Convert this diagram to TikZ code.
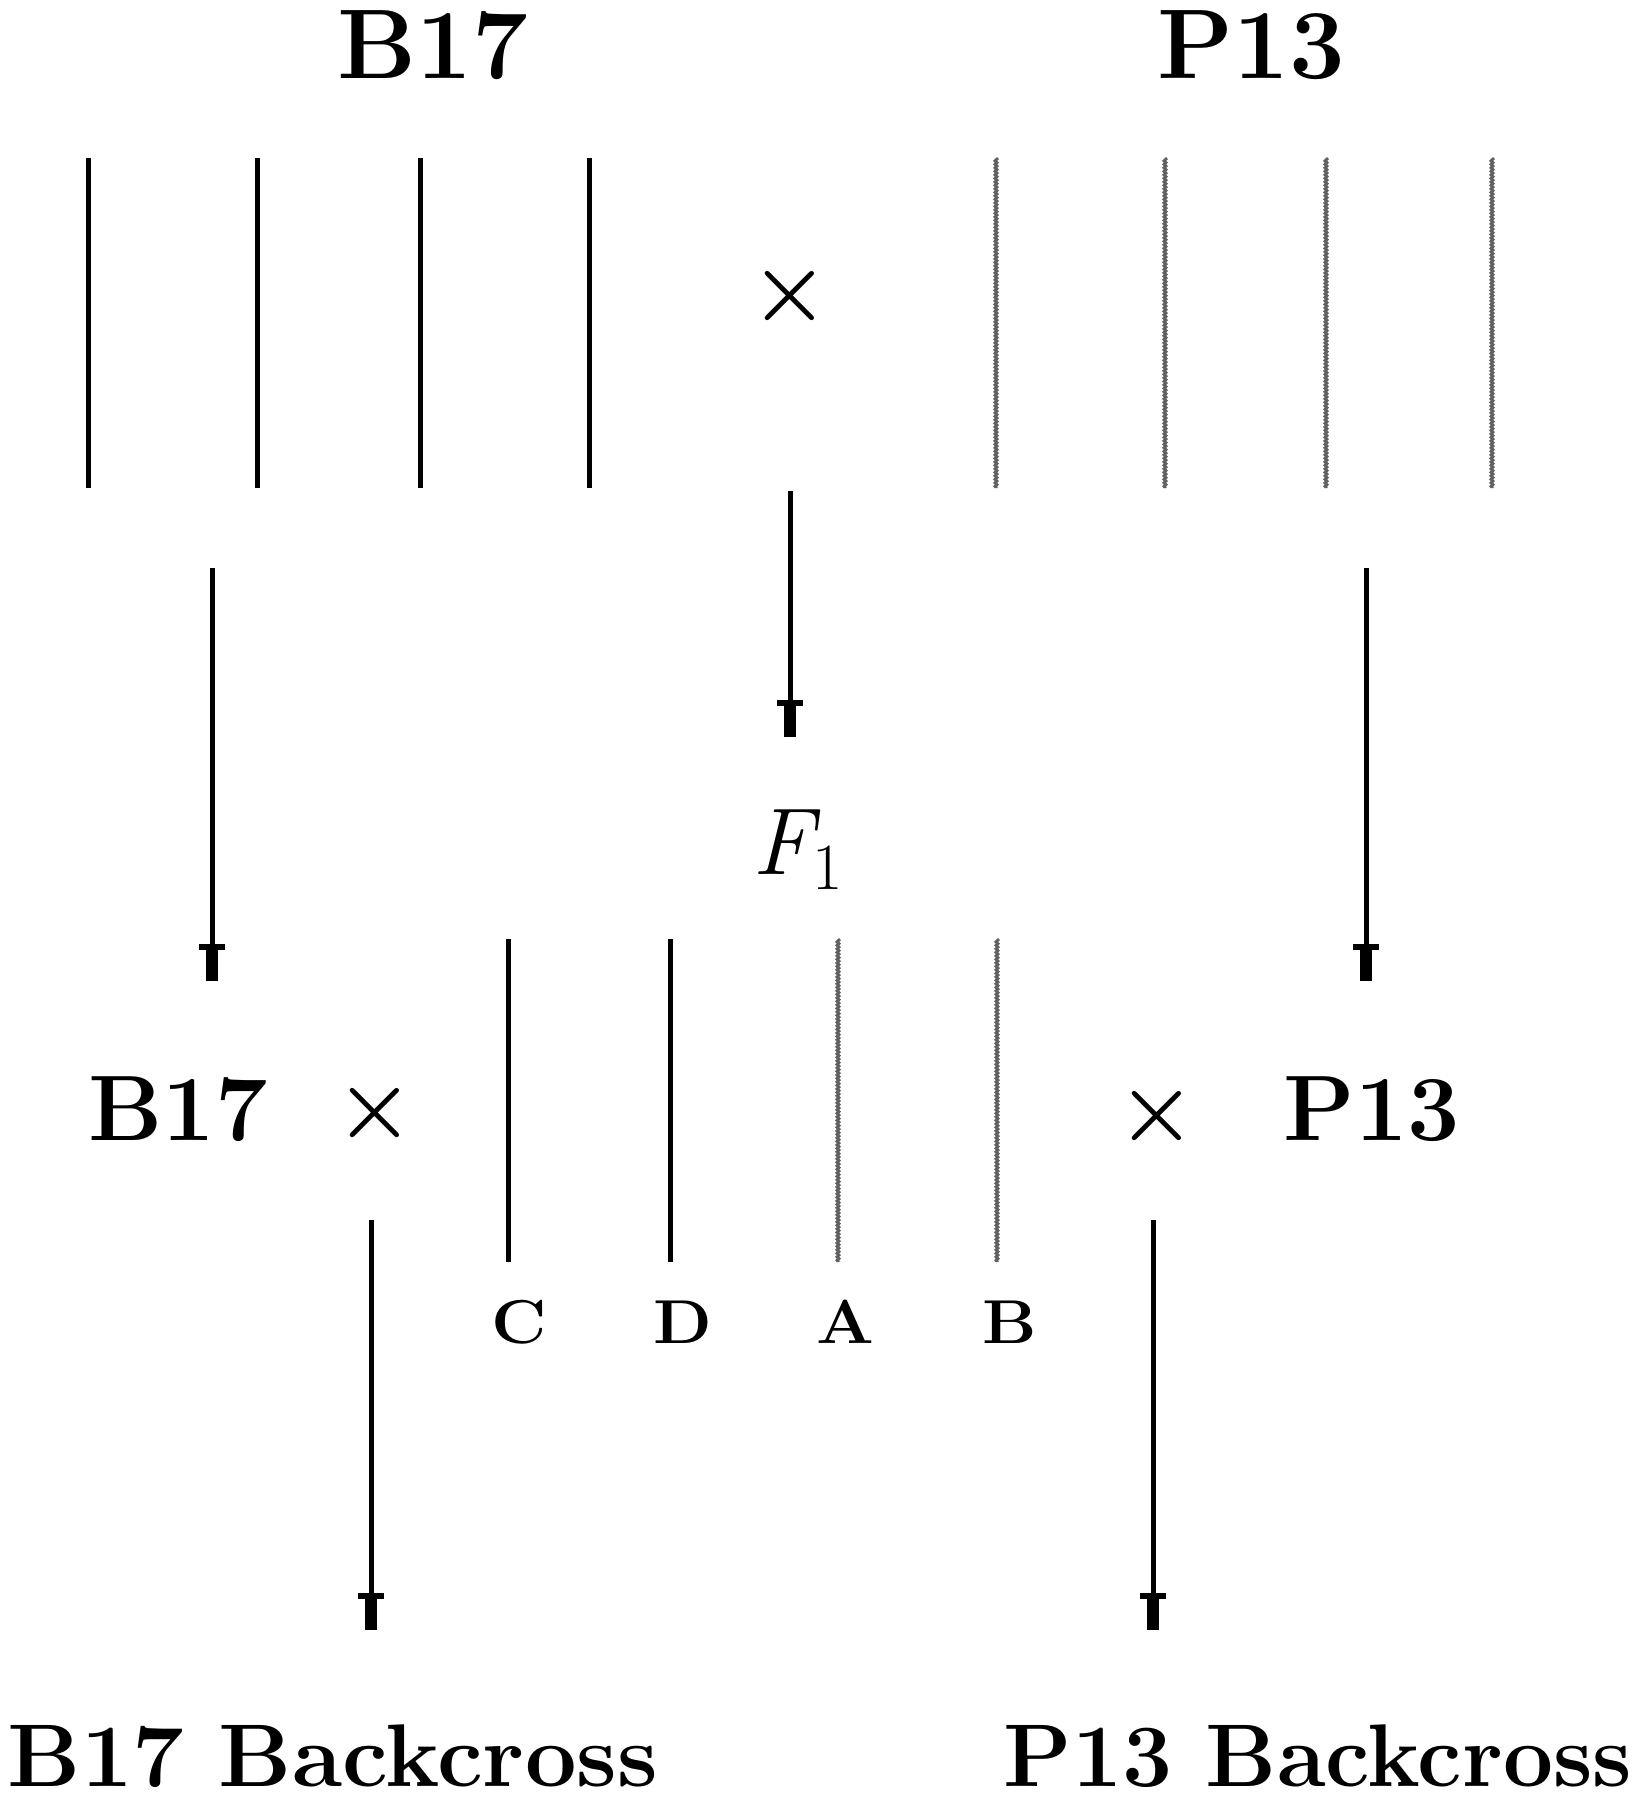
\documentclass[tikz,border=0pt]{standalone}
\usepackage{fontspec}
\usetikzlibrary{decorations.pathmorphing}
\tikzset{
  chrB/.style={line width=5pt, black},
  chrG/.style={line width=3pt, black!62, decorate,
    decoration={snake, amplitude=0.9pt, segment length=3.5pt}},
  conn/.style={line width=5pt, black},
  toplbl/.style={inner sep=0pt, anchor=base, font=\fontsize{99}{110}\selectfont\bfseries},
  lbl/.style={inner sep=0pt, anchor=base, font=\fontsize{93}{100}\selectfont\bfseries},
  botlbl/.style={inner sep=0pt, anchor=base, font=\fontsize{89}{100}\selectfont\bfseries},
  letter/.style={inner sep=0pt, anchor=base, font=\fontsize{62}{68}\selectfont\bfseries},
  crossmark/.style={inner sep=0pt, anchor=center, font=\fontsize{90}{100}\selectfont\bfseries},
  tee/.pic={\fill (-13,-37) rectangle (13,-31); \fill (-6,-32) rectangle (6,0);}
}
\begin{document}
\begin{tikzpicture}[x=1pt,y=-1pt]
\useasboundingbox (0,0) rectangle (1647,1800);
% top labels
\node[toplbl] (tB) at (433,78) {B17};
\node[toplbl] (tP) at (1251,78) {P13};
% parental chromosomes
\foreach \x [count=\i] in {88,257,420,589}{
  \coordinate (bt\i) at (\x,158); \coordinate (bb\i) at (\x,488);
  \draw[chrB] (bt\i) -- (bb\i);
}
\foreach \x [count=\i] in {996,1165,1326,1492}{
  \coordinate (gt\i) at (\x,158); \coordinate (gb\i) at (\x,488);
  \draw[chrG] (gt\i) -- (gb\i);
}
\node[crossmark] (x1) at (790,296) {×};
% arrows
\coordinate (a1s) at (790,491); \coordinate (a1e) at (790,737);
\coordinate (a2s) at (212,568); \coordinate (a2e) at (212,981);
\coordinate (a3s) at (1366,568); \coordinate (a3e) at (1366,981);
\coordinate (a4s) at (371,1220); \coordinate (a4e) at (371,1630);
\coordinate (a5s) at (1153,1220); \coordinate (a5e) at (1153,1630);
\foreach \a in {a1,a2,a3,a4,a5}{
  \draw[conn] (\a s) -- (\a e);
  \pic at (\a e) {tee};
}
% F1
\node[inner sep=0pt, anchor=base west, font=\fontsize{95}{105}\selectfont] (F1) at (752,874)
  {\itshape F\upshape\raisebox{-15pt}{\fontsize{66}{70}\selectfont 1}};
% F1 chromosomes
\foreach \x [count=\i] in {508,670}{
  \coordinate (mt\i) at (\x,939); \coordinate (mb\i) at (\x,1262);
  \draw[chrB] (mt\i) -- (mb\i);
}
\foreach \x [count=\i] in {838,997}{
  \coordinate (nt\i) at (\x,939); \coordinate (nb\i) at (\x,1262);
  \draw[chrG] (nt\i) -- (nb\i);
}
\node[letter] (lC) at (519,1343) {\scalebox{1.1}[1]{C}};
\node[letter] (lD) at (683,1343) {\scalebox{1.1}[1]{D}};
\node[letter] (lA) at (845,1343) {\scalebox{1.1}[1]{A}};
\node[letter] (lB) at (1010,1343) {\scalebox{1.1}[1]{B}};
% backcross parents
\node[lbl] (mB) at (178,1140) {B17};
\node[crossmark] (x2) at (375,1113) {×};
\node[crossmark] (x3) at (1157,1116) {×};
\node[lbl] (mP) at (1372,1140) {P13};
% bottom labels
\node[botlbl] (bB) at (333,1786) {\scalebox{1.03}[1]{B17 Backcross}};
\node[botlbl] (bP) at (1318,1786) {\scalebox{1.0}[1]{P13 Backcross}};
\end{tikzpicture}
\end{document}
